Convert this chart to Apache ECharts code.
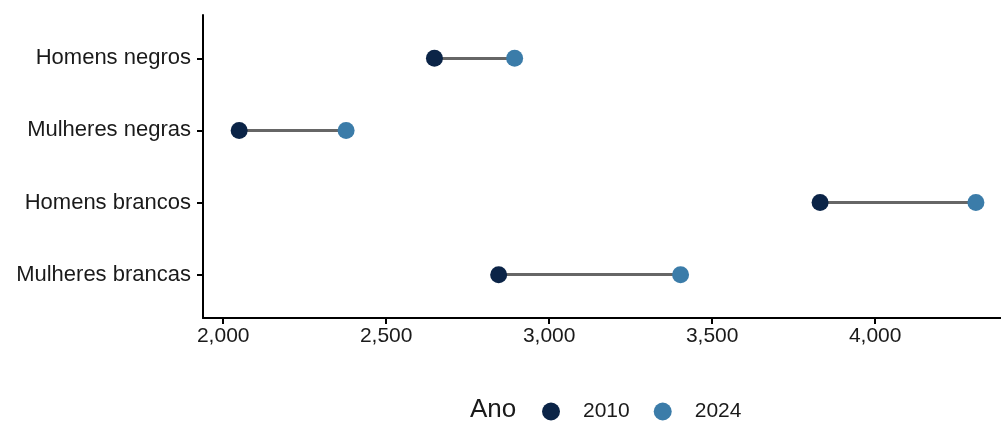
<!DOCTYPE html>
<html>
<head>
<meta charset="utf-8">
<script src="https://cdn.jsdelivr.net/npm/echarts@6/dist/echarts.min.js"></script>
<style>html,body{margin:0;padding:0;background:#fff;}#c{width:1001px;height:423px;}</style>
</head>
<body>
<div id="c"></div>
<script>
const categories = ["Homens negros", "Mulheres negras", "Homens brancos", "Mulheres brancas"];
const values2010 = [2648, 2049, 3831, 2845];
const values2024 = [2894, 2377, 4309, 3403];
const xTicks = [2000, 2500, 3000, 3500, 4000];
const yearNames = ["2010", "2024"];

const FONT = "Liberation Sans, Arial, sans-serif";
const c2010 = "#0b2447";
const c2024 = "#3b7ca9";

const idx = categories.map((_, i) => i);
const chart = echarts.init(document.getElementById('c'), null, {renderer: 'canvas'});
chart.setOption({
  animation: false,
  backgroundColor: '#fff',
  grid: {left: 203, right: 0, top: 15, bottom: 105, containLabel: false},
  xAxis: {
    type: 'value', min: 1938, max: 4386,
    splitLine: {show: false},
    axisLine: {show: true, onZero: false, lineStyle: {color: '#000', width: 2}},
    axisTick: {show: true, inside: false, customValues: xTicks, length: 6, lineStyle: {color: '#000', width: 2}},
    axisLabel: {show: true, customValues: xTicks, margin: 8, color: '#1a1a1a', fontSize: 21, fontFamily: FONT,
      formatter: v => v.toLocaleString('en-US')}
  },
  yAxis: {
    type: 'value', inverse: true, min: -0.6, max: 3.6,
    splitLine: {show: false},
    axisLine: {show: true, onZero: false, lineStyle: {color: '#000', width: 2}},
    axisTick: {show: true, inside: false, customValues: idx, length: 6, lineStyle: {color: '#000', width: 2}},
    axisLabel: {show: true, customValues: idx, margin: 12, color: '#1a1a1a', fontSize: 22, fontFamily: FONT,
      formatter: v => categories[Math.round(v)]}
  },
  legend: {
    data: yearNames, left: 542, top: 401, padding: 0, icon: 'circle', itemWidth: 18, itemHeight: 18, itemGap: 24,
    textStyle: {fontSize: 21, color: '#1a1a1a', fontFamily: FONT, padding: [0, 0, 0, 18]}
  },
  graphic: [{type: 'text', left: 470, top: 397, style: {text: 'Ano', fontSize: 26, fill: '#1a1a1a', fontFamily: FONT}}],
  series: [
    {
      type: 'lines', coordinateSystem: 'cartesian2d', silent: true, z: 1,
      lineStyle: {color: '#666666', width: 3, opacity: 1},
      data: categories.map((c, i) => ({coords: [[values2010[i], i], [values2024[i], i]]}))
    },
    {
      name: yearNames[0], type: 'scatter', symbol: 'circle', symbolSize: 17, z: 3,
      itemStyle: {color: c2010, opacity: 1},
      data: categories.map((c, i) => [values2010[i], i])
    },
    {
      name: yearNames[1], type: 'scatter', symbol: 'circle', symbolSize: 17, z: 3,
      itemStyle: {color: c2024, opacity: 1},
      data: categories.map((c, i) => [values2024[i], i])
    }
  ]
});
</script>
</body>
</html>
